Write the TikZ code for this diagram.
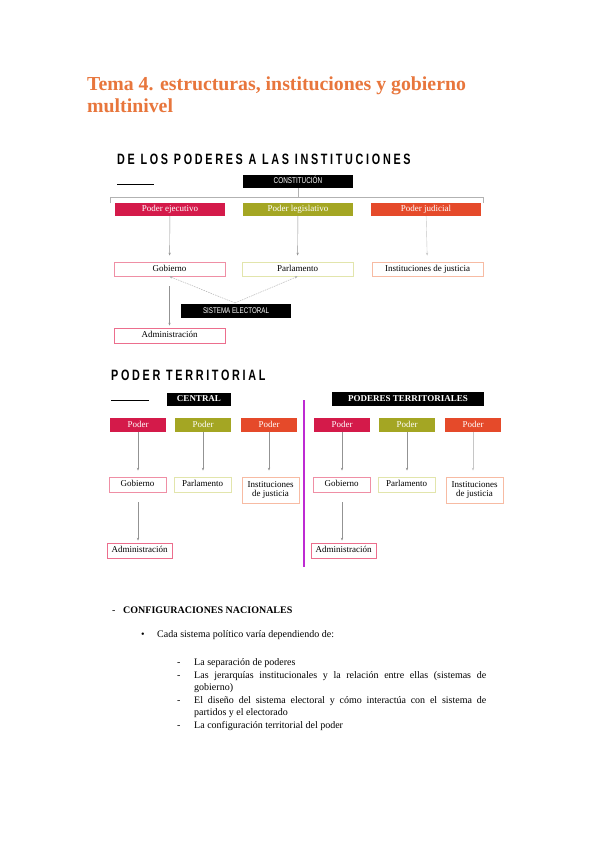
\documentclass[tikz,border=0pt]{standalone}
\usepackage{fontspec}
\setmainfont{Liberation Serif}
\newfontfamily\headfont[LetterSpace=18,FakeStretch=0.72]{Liberation Sans}
\newfontfamily\condfont[FakeStretch=0.75]{Liberation Sans}
\usetikzlibrary{arrows.meta}
\definecolor{titleor}{HTML}{E8763C}
\definecolor{crim}{HTML}{D41A4A}
\definecolor{oliv}{HTML}{A4A623}
\definecolor{oran}{HTML}{E54A2A}
\definecolor{pinkb}{HTML}{EF8FA5}
\definecolor{yelb}{HTML}{E2E5AC}
\definecolor{salb}{HTML}{F7BBA3}
\definecolor{admb}{HTML}{EC6E8D}
\definecolor{magl}{HTML}{BE2BD2}
\begin{document}
\begin{tikzpicture}[x=1pt,y=-1pt,
  box/.style={rectangle, inner sep=0pt, minimum height=13pt, align=center},
  one/.style={text height=6.2pt, text depth=1.8pt},
  blk/.style={box, one, fill=black, text=white},
  pfill/.style={box, one, text=white, font=\fontsize{9}{9.5}\selectfont},
  ob/.style={box, fill=white, line width=0.9pt, minimum height=14pt, font=\fontsize{9}{9.5}\selectfont},
  arr/.style={draw=gray!85, line width=0.4pt, -{Stealth[length=2.8pt,width=2.2pt]}},
  arrl/.style={arr, draw=gray!45},
  darr/.style={arr, draw=gray!70, dashed, dash pattern=on 1.5pt off 1pt},
  brk/.style={draw=gray!60, line width=0.5pt},
  heading/.style={anchor=base west, inner sep=0pt, font=\headfont\bfseries\fontsize{15}{17}\selectfont},
  rule/.style={line width=1pt},
  txt/.style={anchor=base west, inner sep=0pt, font=\fontsize{10}{12}\selectfont}
]
\useasboundingbox (0,0) rectangle (599,848);
\fill[white] (0,0) rectangle (599,848);

% Title
\node[anchor=base west, inner sep=0pt, text=titleor, font=\bfseries\fontsize{19.8}{21}\selectfont] (t1) at (87,90.5) {Tema 4. estructuras, instituciones y gobierno};
\node[anchor=base west, inner sep=0pt, text=titleor, font=\bfseries\fontsize{19.8}{21}\selectfont] (t2) at (87,113) {multinivel};

% Section 1
\node[heading] (h1) at (117,164) {DE LOS PODERES A LAS INSTITUCIONES};
\draw[rule] (117,184) -- (154,184);
\node[blk, minimum width=110pt, font=\condfont\fontsize{8.5}{9}\selectfont] (const) at (298,181.5) {CONSTITUCIÓN};
\coordinate (bj) at (298,197);
\draw[brk] (110,203) -- (110,197) -- (483,197) -- (483,203);
\draw[brk] (const.south) -- (bj);

\node[pfill, fill=crim, minimum width=110pt] (pe) at (170,209.5) {Poder ejecutivo};
\node[pfill, fill=oliv, minimum width=110pt] (pl) at (298,209.5) {Poder legislativo};
\node[pfill, fill=oran, minimum width=110pt] (pj) at (426,209.5) {Poder judicial};

\node[ob, one, draw=pinkb, minimum width=111pt] (gob) at (169.5,269) {Gobierno};
\node[ob, one, draw=yelb, minimum width=111pt] (parl) at (297.5,269) {Parlamento};
\node[ob, one, draw=salb, minimum width=111pt] (inst) at (427.5,269) {Instituciones de justicia};

\draw[arr, shorten >=6pt] (pe) -- (gob);
\draw[arr, shorten >=6pt] (pl) -- (parl);
\draw[arrl, shorten >=6pt] (pj) -- (inst);

\node[blk, minimum width=110pt, minimum height=14pt, font=\condfont\fontsize{8.3}{9}\selectfont] (sist) at (236,311) {SISTEMA ELECTORAL};
\coordinate (se) at (235,303);
\draw[darr] (se) -- (gob.south);
\draw[darr] (se) -- (parl.south);

\node[ob, one, draw=admb, minimum width=111pt, minimum height=15pt] (adm) at (169.5,335.5) {Administración};
\draw[arr, shorten <=10pt, shorten >=2pt] (gob) -- (adm);

% Section 2
\node[heading] (h2) at (111,380) {PODER TERRITORIAL};
\draw[rule] (111,400) -- (149,400);
\node[blk, minimum width=64pt, font=\bfseries\fontsize{9}{9.5}\selectfont] (cen) at (199,399.5) {CENTRAL};
\node[blk, minimum width=152pt, minimum height=14pt, font=\bfseries\fontsize{9}{9.5}\selectfont] (pter) at (408,399) {PODERES TERRITORIALES};
\draw[magl, line width=2.5pt] (304,400) -- (304,567);

\foreach \n/\x in {a/0,b/204} {
  \node[pfill, fill=crim, minimum width=56pt, minimum height=14pt] (p1\n) at (138+\x,425) {Poder};
  \node[pfill, fill=oliv, minimum width=56pt, minimum height=14pt] (p2\n) at (204+\x-1,425) {Poder};
  \node[pfill, fill=oran, minimum width=56pt, minimum height=14pt] (p3\n) at (269+\x,425) {Poder};
  \node[ob, one, draw=pinkb, minimum width=57pt, minimum height=15pt] (g\n) at (138.5+\x-1,484.5) {Gobierno};
  \node[ob, one, draw=yelb, minimum width=57pt, minimum height=15pt] (pa\n) at (204.5+\x-2,484.5) {Parlamento};
  \node[ob, draw=salb, minimum width=57pt, minimum height=26pt] (in\n) at (269.5+\x+1,490) {Instituciones\\de justicia};
  \node[ob, one, draw=admb, minimum width=65pt, minimum height=15pt] (ad\n) at (138.5+\x+1,550.5) {Administración};
}
\draw[arr, shorten >=6pt] (p1a) -- (ga.north -| p1a.south);
\draw[arr, shorten >=6pt] (p2a) -- (paa.north -| p2a.south);
\draw[arr, shorten >=6pt] (p3a) -- (ina.north -| p3a.south);
\draw[arr, shorten >=6pt] (p1b) -- (gb.north -| p1b.south);
\draw[arr, shorten >=6pt] (p2b) -- (pab.north -| p2b.south);
\draw[arrl, shorten >=6pt] (p3b) -- (inb.north -| p3b.south);
\draw[arr, shorten <=10pt, shorten >=2pt] (ga.south -| p1a.south) -- (ada.north -| p1a.south);
\draw[arr, shorten <=10pt, shorten >=2pt] (gb.south -| p1b.south) -- (adb.north -| p1b.south);

% Text section
\node[txt] (d0) at (112,613) {-};
\node[txt, font=\bfseries\fontsize{10}{12}\selectfont] (c0) at (123,613) {CONFIGURACIONES NACIONALES};
\node[txt] (b0) at (141,637) {\textbullet};
\node[txt] (c1) at (157,637) {Cada sistema político varía dependiendo de:};
\node[txt] (d1) at (177,665) {-};
\node[txt] (l1) at (194,665) {La separación de poderes};
\node[txt] (d2) at (177,678) {-};
\node[txt] (l2) at (194,678) {\makebox[292pt][s]{Las jerarquías institucionales y la relación entre ellas (sistemas de}};
\node[txt] (l2b) at (194,690.5) {gobierno)};
\node[txt] (d3) at (177,703) {-};
\node[txt] (l3) at (194,703) {\makebox[292pt][s]{El diseño del sistema electoral y cómo interactúa con el sistema de}};
\node[txt] (l3b) at (194,715.5) {partidos y el electorado};
\node[txt] (d4) at (177,728.5) {-};
\node[txt] (l4) at (194,728.5) {La configuración territorial del poder};
\end{tikzpicture}
\end{document}
